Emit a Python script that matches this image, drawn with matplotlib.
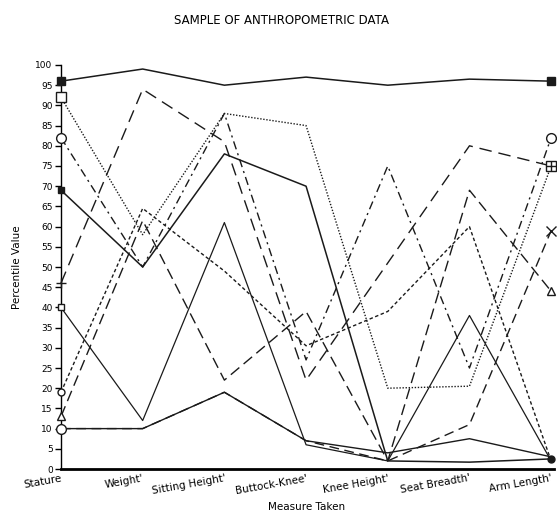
import numpy as np
import matplotlib
matplotlib.use('Agg')
import matplotlib.pyplot as plt

# categories along the x axis
measures = ['Stature', "Weight'", "Sitting Height'", "Buttock-Knee'",
            "Knee Height'", "Seat Breadth'", "Arm Length'"]

# percentile values per subject
subj_a = [96, 99, 95, 97, 95, 96.5, 96]
subj_b = [46, 94, 81, 22, 51, 80, 75]
subj_c = [92, 58, 88, 85, 20, 20.5, 75]
subj_d = [82, 50, 88, 27, 75, 25, 82]
subj_e = [19, 64.5, 49, 30.5, 39, 60, 2]
subj_f = [69, 50, 78, 70, 2, 1.7, 2.5]
subj_g = [13, 61.5, 22, 39, 2, 69, 44]
subj_h = [40, 12, 61, 6, 2, 38, 2]
subj_i = [10, 10, 19, 7, 4, 7.5, 3]
subj_j = [10, 10, 19, 7, 2, 11, 59]

yticks = list(range(0, 101, 5))

fig = plt.figure(figsize=(5.57, 5.15), dpi=100)
ax = fig.add_axes([0.1095, 0.0893, 0.880, 0.7845])

x = np.arange(len(measures))
ink = '#1a1a1a'

def draw(vals, ls, lw=1.0, m0=None, m1=None, ms=6, fill=False):
    ax.plot(x, vals, linestyle=ls, color=ink, lw=lw, clip_on=False)
    for idx, m in ((0, m0), (len(vals) - 1, m1)):
        if m is None:
            continue
        ax.plot(x[idx], vals[idx], marker=m, ms=ms, color=ink,
                mfc=ink if fill else 'white', mec=ink, mew=1.0,
                linestyle='none', clip_on=False, zorder=5)

draw(subj_j, (0, (7, 4)), m0='+', m1='x', ms=7)
draw(subj_i, '-', m0='o', ms=7)
draw(subj_h, '-', lw=0.9, m0='s', ms=4)
draw(subj_g, (0, (8, 4)), m0='^', m1='^', ms=6)
draw(subj_f, '-', lw=1.1, m0='s', m1='o', ms=5, fill=True)
draw(subj_e, (0, (2.5, 1.8)), m0='o', ms=5)
draw(subj_d, (0, (6, 3, 1.5, 3)), m0='o', m1='o', ms=7)
draw(subj_c, (0, (1, 1.2)), m0='s', m1='s', ms=7)
draw(subj_b, (0, (9, 5)), m0='+', m1='+', ms=7)
draw(subj_a, '-', lw=1.1, m0='s', m1='s', ms=6, fill=True)

ax.set_xlim(0, 6)
ax.set_ylim(0, 100)
ax.spines['top'].set_visible(False)
ax.spines['right'].set_visible(False)
ax.spines['left'].set_linewidth(1.0)
ax.spines['bottom'].set_linewidth(2.0)
ax.spines['bottom'].set_bounds(0, 6.03)

ax.set_yticks(yticks)
ax.set_yticklabels([str(v) for v in yticks], fontsize=6.5)
ax.tick_params(axis='y', direction='out', length=4, width=1, pad=2)
ax.set_xticks(x)
ax.set_xticklabels(measures, fontsize=7.5, rotation=10, ha='right',
                   rotation_mode='anchor')
ax.tick_params(axis='x', length=0, pad=3)

ax.set_ylabel('Percentile Value', fontsize=7.5, labelpad=10)
ax.set_xlabel('Measure Taken', fontsize=7.5, labelpad=4)
fig.text(0.505, 0.96, 'SAMPLE OF ANTHROPOMETRIC DATA', ha='center',
         va='center', fontsize=8.5)

fig.savefig('out.png', dpi=100)
